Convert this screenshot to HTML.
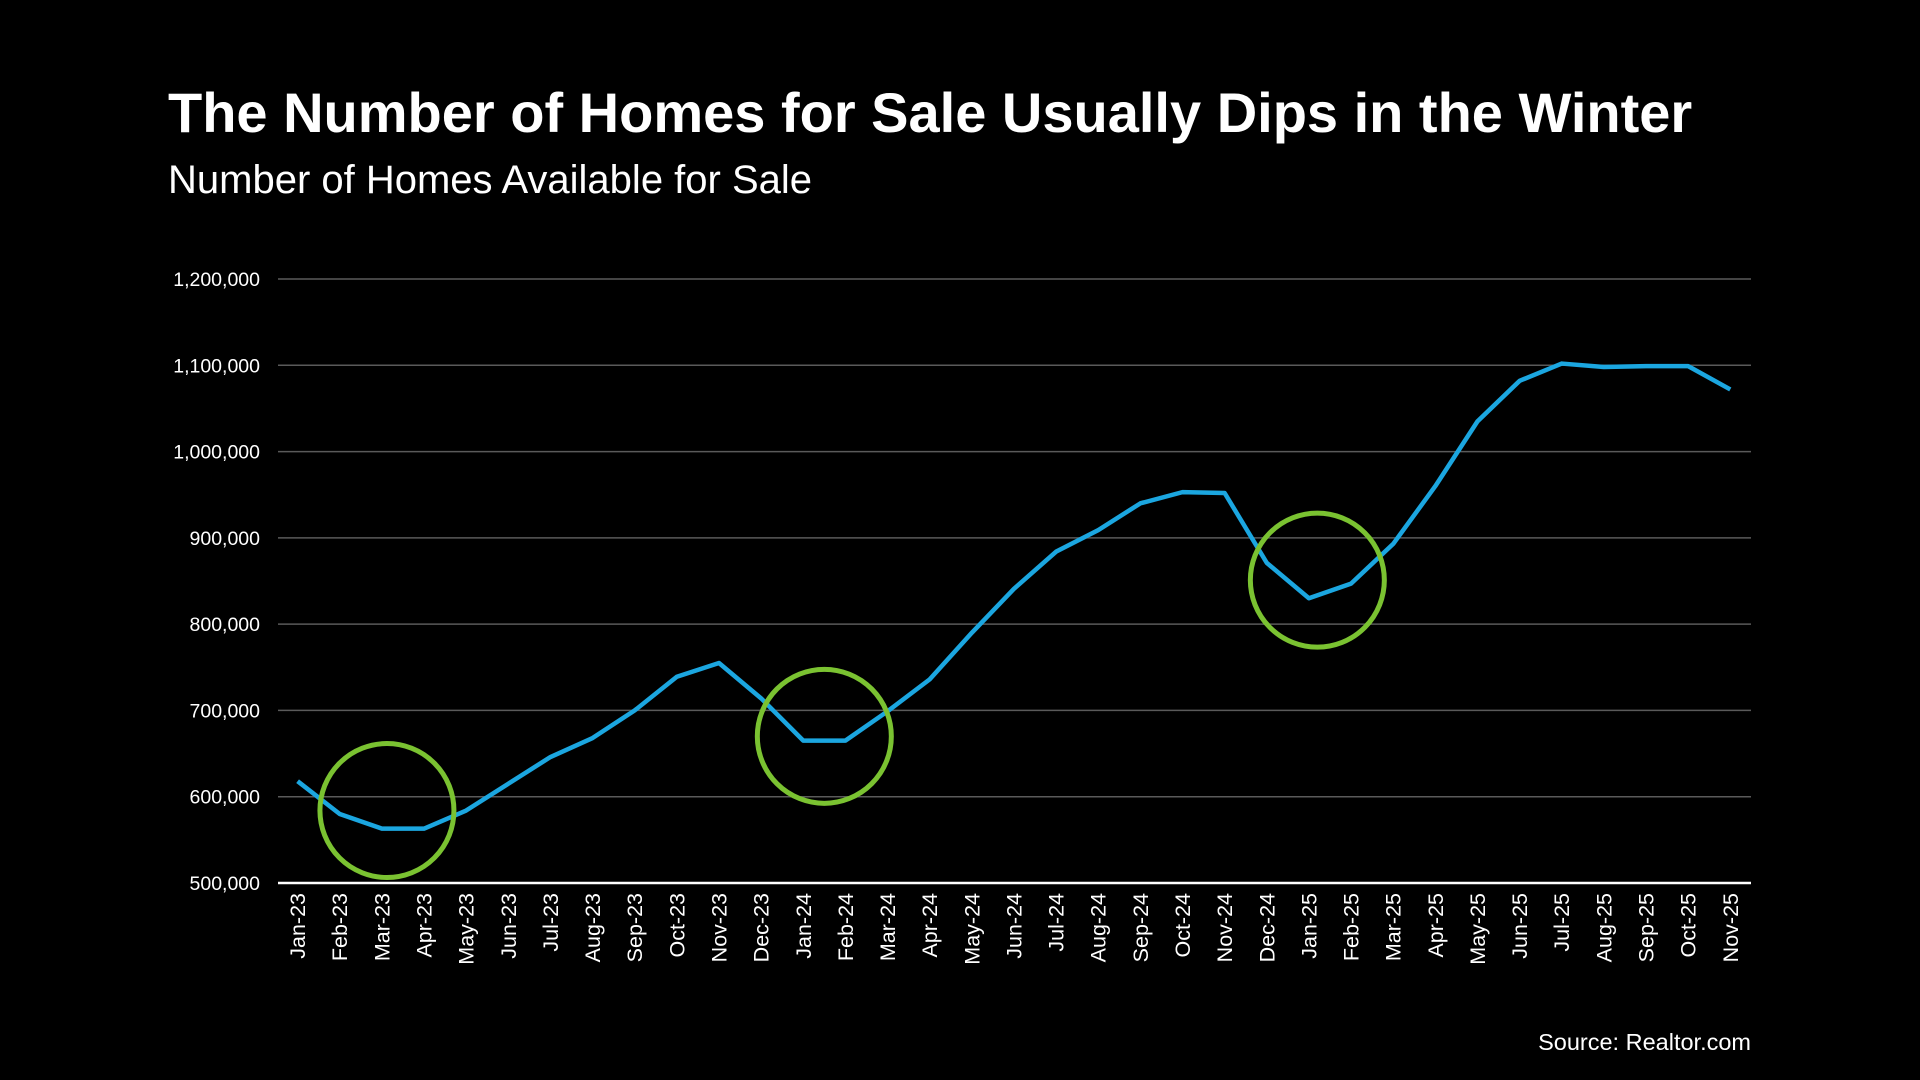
<!DOCTYPE html>
<html><head><meta charset="utf-8"><style>
html,body{margin:0;padding:0;background:#000;width:1920px;height:1080px;overflow:hidden}
svg{display:block}
text{font-family:"Liberation Sans",Arial,sans-serif;fill:#fff}
</style></head><body>
<svg id="chart" width="1920" height="1080" viewBox="0 0 1920 1080">
<text x="168" y="132" font-size="56" font-weight="bold">The Number of Homes for Sale Usually Dips in the Winter</text>
<text x="168" y="193" font-size="40">Number of Homes Available for Sale</text>
<g id="grid"></g><g id="yt"></g><g id="xt"></g><g id="series"></g><g id="circles"></g>
<text x="1751" y="1050" font-size="23.5" text-anchor="end">Source: Realtor.com</text>
</svg>
<script>
const categories=["Jan-23","Feb-23","Mar-23","Apr-23","May-23","Jun-23","Jul-23","Aug-23","Sep-23","Oct-23","Nov-23","Dec-23","Jan-24","Feb-24","Mar-24","Apr-24","May-24","Jun-24","Jul-24","Aug-24","Sep-24","Oct-24","Nov-24","Dec-24","Jan-25","Feb-25","Mar-25","Apr-25","May-25","Jun-25","Jul-25","Aug-25","Sep-25","Oct-25","Nov-25"];
const homes=[618000,580000,563000,563000,584000,615000,646000,668000,700000,739000,755000,714000,665000,665000,699000,736000,790000,841000,884000,909000,940000,953000,952000,871000,830000,847000,893000,960000,1035000,1082000,1102000,1098000,1099000,1099000,1072000];
const yTicks=[500000,600000,700000,800000,900000,1000000,1100000,1200000];
const yTickLabels=["500,000","600,000","700,000","800,000","900,000","1,000,000","1,100,000","1,200,000"];
const circleIdx=[2.12,12.5,24.2];
const circleVal=[584000,670000,851000];
const NS="http://www.w3.org/2000/svg";
const L=278,R=1751,T=279,B=883,x0=297.6,x1=1730.3;
const xs=i=>x0+(x1-x0)*i/(categories.length-1);
const ys=v=>B-(v-500000)/700000*(B-T);
function mk(tag,attrs,parent){const e=document.createElementNS(NS,tag);for(const k in attrs)e.setAttribute(k,attrs[k]);document.getElementById(parent).appendChild(e);return e;}
yTicks.forEach((v,i)=>{
  if(i>0){const g=mk('line',{x1:L,x2:R,y1:ys(v),y2:ys(v),stroke:'#5a5a5a','stroke-width':1.5},'grid');
  
  }
  const t=mk('text',{x:260,y:ys(v)+7,'font-size':19.5,'text-anchor':'end'},'yt');t.textContent=yTickLabels[i];
  
  
});
const ax=mk('line',{x1:L,x2:R,y1:B,y2:B,stroke:'#fff','stroke-width':2.5},'grid');


categories.forEach((c,i)=>{
  const t=mk('text',{x:0,y:0,'font-size':21.5,'text-anchor':'end',transform:`translate(${xs(i)+7.5},${B+10}) rotate(-90)`},'xt');t.textContent=c;
  
  
});
const p=mk('polyline',{points:homes.map((v,i)=>xs(i)+','+ys(v)).join(' '),fill:'none',stroke:'#1ba6e0','stroke-width':4.5,'stroke-linejoin':'round'},'series');


circleIdx.forEach((ci,i)=>{
  const c=mk('circle',{cx:xs(ci),cy:ys(circleVal[i]),r:67,fill:'none',stroke:'#7ac231','stroke-width':5},'circles');
  
  
});
</script>
</body></html>
